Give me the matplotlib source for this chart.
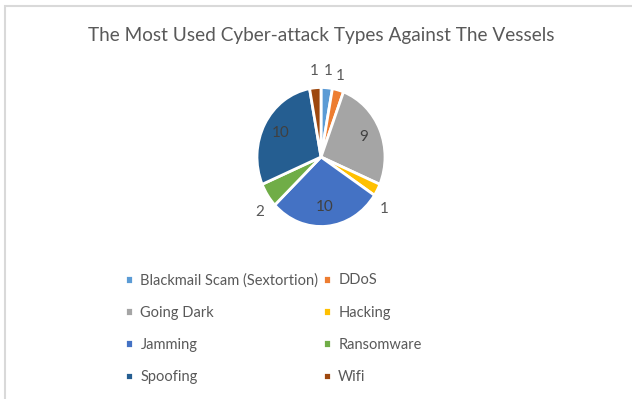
import matplotlib.pyplot as plt
import numpy as np
from matplotlib.patches import Rectangle

# attack types and number of reported incidents
types = ["Blackmail Scam (Sextortion)", "DDoS", "Going Dark", "Hacking",
         "Jamming", "Ransomware", "Spoofing", "Wifi"]
counts = [1, 1, 9, 1, 10, 2, 10, 1]
colors = ["#5B9BD5", "#ED7D31", "#A5A5A5", "#FFC000",
          "#4472C4", "#70AD47", "#255E91", "#9E480E"]

plt.rcParams['font.family'] = ['Lato', 'DejaVu Sans']
text_col = "#595959"

fig = plt.figure(figsize=(6.32, 3.99), dpi=100)

# light grey chart frame
fig.patches.append(Rectangle((4.5 / 632, -0.1), 1.2, 1 - 5.5 / 399 + 0.1,
                             transform=fig.transFigure, fill=False,
                             edgecolor="#D9D9D9", linewidth=1.5))

fig.text(0.508, 1 - 35 / 399, "The Most Used Cyber-attack Types Against The Vessels",
         ha="center", va="center", fontsize=13.7, color=text_col)

# pie axes: centre at (321, 157) px, slightly taller than wide
rx, ry = 64, 69.5
lim = 1.45
w_px, h_px = 2 * lim * rx, 2 * lim * ry
ax = fig.add_axes([(321 - w_px / 2) / 632, 1 - (157 + h_px / 2) / 399,
                   w_px / 632, h_px / 399])
wedges, _ = ax.pie(counts, colors=colors, startangle=90, counterclock=False,
                   wedgeprops=dict(edgecolor="white", linewidth=2))
ax.set_xlim(-lim, lim)
ax.set_ylim(-lim, lim)
ax.set_aspect("auto")
ax.axis("off")

# data labels: large slices inside, small slices outside
# (outside labels on the lower slices sit a bit lower than the slice middle)
shift = [0, 1, 0, -9, 0, 6, 0, 0]
dist = [1.24, 1.21, 0.72, 1.24, 0.72, 1.24, 0.72, 1.24]
for w, n, s, d in zip(wedges, counts, shift, dist):
    mid = np.deg2rad((w.theta1 + w.theta2) / 2 + s)
    ax.text(d * np.cos(mid), d * np.sin(mid), str(n), ha="center", va="center",
            fontsize=11, color=text_col if n < 5 else "#404040")

# legend in two columns, filled row by row
order = [0, 2, 4, 6, 1, 3, 5, 7]
fig.legend([wedges[i] for i in order], [types[i] for i in order], ncol=2,
           loc="upper left", bbox_to_anchor=(112 / 632, 1 - 260 / 399),
           frameon=False, fontsize=10.5, labelcolor=text_col,
           handlelength=0.55, handleheight=0.55, handletextpad=0.5,
           columnspacing=0.3, labelspacing=1.25)

fig.savefig("out.png", dpi=100)
